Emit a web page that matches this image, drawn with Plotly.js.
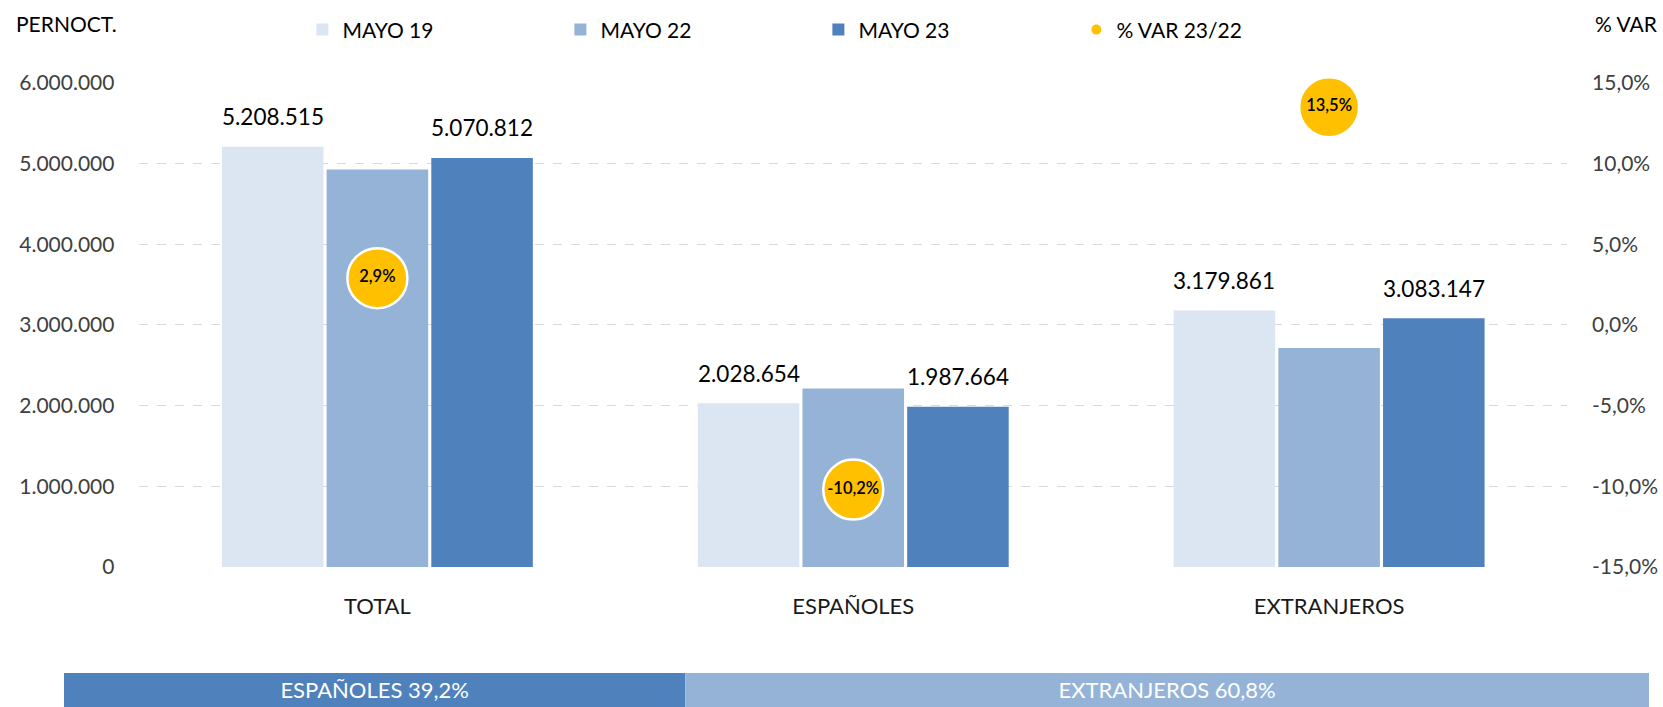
<!DOCTYPE html>
<html>
<head>
<meta charset="utf-8">
<script src="https://cdn.plot.ly/plotly-3.0.1.min.js"></script>
<style>html,body{margin:0;padding:0;background:#fff;}#chart{width:1663px;height:707px;}</style>
</head>
<body>
<div id="chart"></div>
<script>
const categories = ['TOTAL', 'ESPAÑOLES', 'EXTRANJEROS'];
const seriesNames = ['MAYO 19', 'MAYO 22', 'MAYO 23'];
const mayo19 = [5208515, 2028654, 3179861];
const mayo22 = [4928000, 2213000, 2716000];
const mayo23 = [5070812, 1987664, 3083147];
const varName = '% VAR 23/22';
const varPct = [2.9, -10.2, 13.5];
const shareLabels = ['ESPAÑOLES', 'EXTRANJEROS'];
const shareValues = [39.2, 60.8];
const rightTicks = [-15, -10, -5, 0, 5, 10, 15];
const leftTitle = 'PERNOCT.';
const rightTitle = '% VAR';

const FONT = 'Lato, "Noto Sans", sans-serif';
const colors = ['#DCE6F2', '#95B3D7', '#4F81BD'];
const shareColors = ['#4F81BD', '#95B3D7'];
const fmtPct = v => v.toFixed(1).replace('.', ',') + '%';

const series = [mayo19, mayo22, mayo23];
const traces = series.map((vals, i) => ({
  type: 'bar', name: seriesNames[i], x: categories, y: vals,
  xaxis: 'x', yaxis: 'y',
  marker: {color: colors[i]}, hoverinfo: 'x+y'
}));

traces.push({
  type: 'scatter', mode: 'markers+text', name: varName,
  x: categories, y: varPct, xaxis: 'x', yaxis: 'y2',
  marker: {color: '#FFC000', size: 60, line: {color: '#FFFFFF', width: 2.5}},
  text: varPct.map(fmtPct), textposition: 'middle center',
  textfont: {family: FONT, size: 16.5, color: '#000000', weight: 600},
  cliponaxis: false
});

const shareBase = shareValues.map((v, i) => shareValues.slice(0, i).reduce((a, b) => a + b, 0));
traces.push({
  type: 'bar', orientation: 'h', showlegend: false,
  x: shareValues, base: shareBase, y: ['s', 's'], width: [1, 1],
  xaxis: 'x2', yaxis: 'y3',
  marker: {color: shareColors},
  text: shareLabels.map((l, i) => l + ' ' + fmtPct(shareValues[i])), textposition: 'inside',
  insidetextanchor: 'middle', constraintext: 'none', textangle: 0,
  insidetextfont: {family: FONT, size: 22, color: '#FFFFFF'},
  hoverinfo: 'skip'
});

// value labels above MAYO 19 and MAYO 23 bars
const slot = 104.7;
const annotations = [];
[[mayo19, -slot], [mayo23, slot]].forEach(([vals, shift]) => {
  vals.forEach((v, j) => {
    annotations.push({
      x: categories[j], y: v, xref: 'x', yref: 'y', xshift: shift, yshift: 30,
      text: v.toLocaleString('de-DE'), showarrow: false, yanchor: 'middle',
      font: {family: FONT, size: 22.5, color: '#000000'}
    });
  });
});
annotations.push({xref: 'paper', yref: 'paper', x: -0.0313, y: 1.0946, xanchor: 'left', yanchor: 'middle',
  text: leftTitle, showarrow: false, font: {family: FONT, size: 21, color: '#000000'}});
annotations.push({xref: 'paper', yref: 'paper', x: 0.9647, y: 1.0946, xanchor: 'left', yanchor: 'middle',
  text: rightTitle, showarrow: false, font: {family: FONT, size: 21, color: '#000000'}});

const layout = {
  width: 1663, height: 707,
  margin: {l: 63.6, r: 14, t: 83, b: 0},
  paper_bgcolor: '#FFFFFF', plot_bgcolor: '#FFFFFF',
  separators: ',.',
  font: {family: FONT, size: 21, color: '#404040'},
  barmode: 'group', bargap: 0.34, bargroupgap: 0.03,
  showlegend: true,
  legend: {orientation: 'h', x: 0.1504, xanchor: 'left', y: 1.085, yanchor: 'middle',
    entrywidth: 213, entrywidthmode: 'pixels', itemsizing: 'constant',
    font: {family: FONT, size: 21, color: '#000000'}, bgcolor: 'rgba(0,0,0,0)'},
  xaxis: {domain: [0.0476, 0.9483], anchor: 'y', type: 'category',
    showgrid: false, zeroline: false, showline: false, ticks: '',
    ticklabelstandoff: 24, tickfont: {family: FONT, size: 22, color: '#1A1A1A'}},
  yaxis: {domain: [0.2244, 1], anchor: 'x', range: [0, 6000000], dtick: 1000000,
    tickformat: ',d', showgrid: true, gridcolor: '#D9D9D9', griddash: 'dash', gridwidth: 1,
    zeroline: false, showline: false, ticks: '', ticklabelstandoff: 24,
    tickfont: {family: FONT, size: 21, color: '#404040'}},
  yaxis2: {overlaying: 'y', side: 'right', anchor: 'x', range: [-15, 15],
    tickmode: 'array', tickvals: rightTicks, ticktext: rightTicks.map(fmtPct),
    showgrid: false, zeroline: false, showline: false,
    ticks: '', ticklabelstandoff: 24, tickfont: {family: FONT, size: 21, color: '#404040'}},
  xaxis2: {domain: [0, 1], anchor: 'y3', range: [0, 100], visible: false, fixedrange: true},
  yaxis3: {domain: [0, 0.0545], anchor: 'x2', range: [-0.5, 0.5], visible: false, type: 'category', fixedrange: true},
  annotations: annotations
};

Plotly.newPlot('chart', traces, layout, {displayModeBar: false, staticPlot: true});
</script>
</body>
</html>
